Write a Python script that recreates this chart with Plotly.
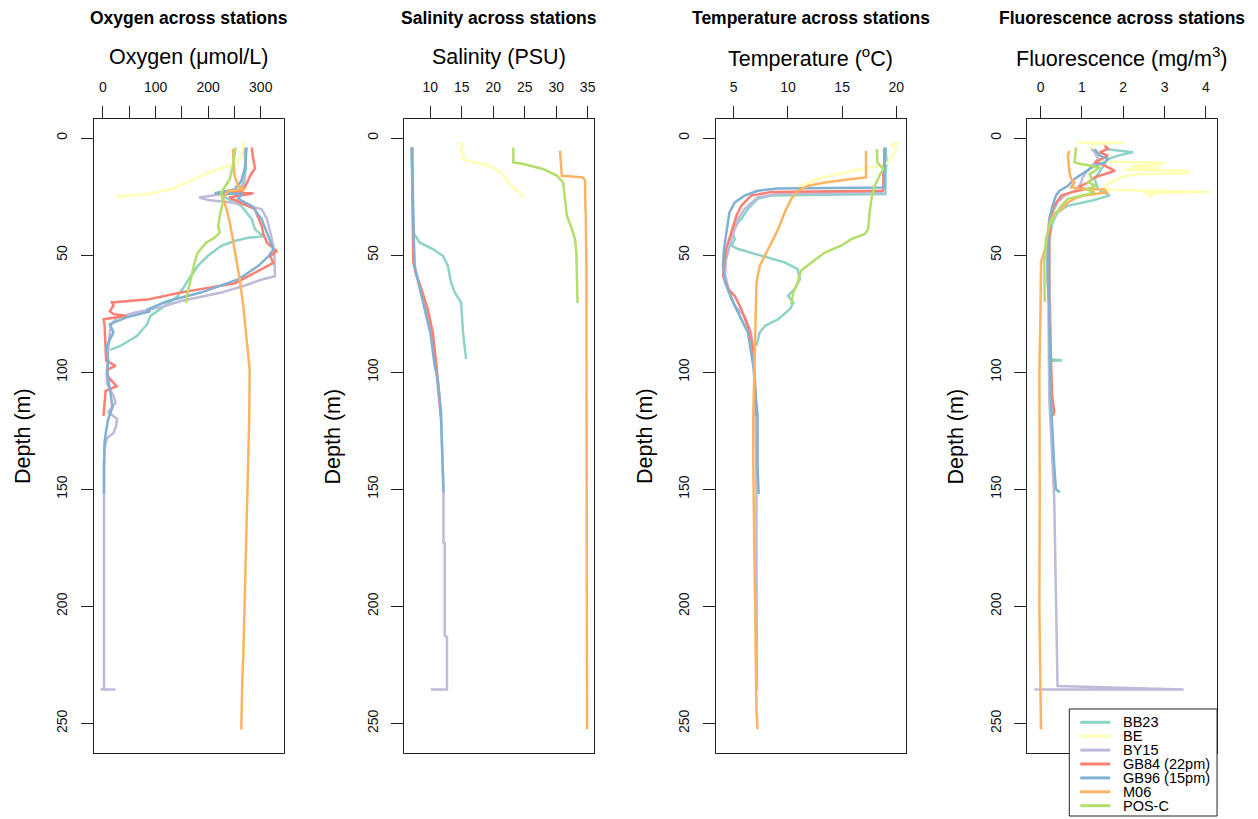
import plotly.graph_objects as go

W, H = 1258, 819

stations = ["BB23", "BE", "BY15", "GB84 (22pm)", "GB96 (15pm)", "M06", "POS-C"]
colors = ["#8DD3C7", "#FFFFB3", "#BEBADA", "#FB8072", "#80B1D3", "#FDB462", "#B3DE69"]

# ---------------- Oxygen (umol/L) ----------------
oxy_d_BB23 = [4, 8, 12, 16, 20, 23, 24.5, 26, 29, 34.7, 39, 42, 42.6, 44, 46, 50.4, 54.7, 59, 63.3, 67.6, 71.9, 76, 79.5, 84.5, 88.8, 90.5]
oxy_BB23 = [268, 270, 272, 270, 268, 262, 225, 238, 263, 283, 289, 305, 276, 250, 225, 199, 180, 167, 154, 142, 116, 90, 84, 65, 33, 14]
oxy_d_BE = [1.9, 4, 7, 10.4, 11.9, 13.5, 15.4, 18.3, 21.9, 24, 25.1]
oxy_BE = [268, 266, 264, 257, 238, 215, 193, 167, 129, 84, 24]
oxy_d_BY15 = [4.7, 8, 12, 16, 20, 23, 25.4, 26.5, 28, 30.4, 34.7, 40, 46, 50, 56, 59, 60.4, 63, 66, 69.6, 71.9, 74.7, 77, 80, 85, 90, 95, 100, 105, 110, 113, 117, 120, 123, 126, 128, 132, 140, 160, 180, 200, 220, 235, 235.5, 235.5]
oxy_BY15 = [270, 272, 270, 268, 265, 255, 183, 200, 260, 302, 312, 318, 324, 326, 327, 327, 302, 270, 225, 148, 116, 58, 25, 15, 12, 10, 8, 7, 8, 20, 24, 10, 27, 25, 20, 8, 3, 2, 2, 2, 2, 2, 2, -4, 24]
oxy_d_GB84 = [4, 8, 13, 16, 20, 22.5, 23.6, 23.6, 25.4, 27.5, 30.4, 34, 37.6, 41, 44.7, 48.3, 50.5, 53.3, 56, 59, 62, 64, 66, 69, 70.2, 71.5, 74, 75.2, 75.9, 77.4, 80, 85, 90, 95, 97.3, 99, 102, 106, 108, 112, 116, 118.7]
oxy_GB84 = [283, 285, 289, 280, 272, 265, 216, 286, 240, 262, 289, 295, 302, 305, 312, 330, 318, 324, 302, 275, 251, 200, 148, 84, 17, 20, 13, 20, 45, 1, 3, 4, 5, 6, 24, 8, 10, 26, 5, 3, 2, 1]
oxy_d_GB96 = [4, 8, 13, 18.3, 22, 23.6, 23.8, 26, 29, 34.7, 41.9, 47.6, 50.4, 54.7, 60.4, 63, 66, 69.7, 73.3, 74, 76.6, 79.5, 83, 88.8, 95, 100, 105, 110, 115, 120, 125, 130, 140, 152]
oxy_GB96 = [273, 272, 270, 263, 250, 212, 265, 257, 283, 302, 315, 324, 315, 295, 257, 225, 186, 122, 84, 90, 45, 13, 20, 7, 10, 8, 12, 15, 18, 10, 6, 3, 2, 2]
oxy_d_M06 = [4.7, 10, 16, 20.4, 22, 22.6, 25.4, 30.4, 36, 43.3, 51.9, 60.4, 71.9, 85, 99.3, 120, 138.5, 160, 174, 190, 203, 220, 231, 252.6]
oxy_M06 = [247, 248, 250, 257, 270, 238, 228, 235, 241, 247, 254, 260, 267, 273, 279, 278, 276, 274, 273, 271, 269, 267, 265, 263]
oxy_d_POSC = [4, 8, 11.9, 17.6, 23.3, 27.6, 33.3, 37.6, 40.4, 42.6, 44.7, 49, 53.3, 60.4, 66, 70.5]
oxy_POSC = [252, 250, 247, 241, 225, 228, 222, 219, 222, 212, 196, 180, 174, 167, 161, 158]

# ---------------- Salinity (PSU) ----------------
sal_d_BB23 = [4, 20, 40.3, 44.6, 47.4, 50.3, 54.6, 61.7, 66, 70.2, 76, 83, 90, 94.4]
sal_BB23 = [7.1, 7.2, 7.3, 8.3, 10.4, 12.0, 12.8, 13.3, 13.9, 14.9, 15.0, 15.2, 15.5, 15.7]
sal_d_BE = [1.9, 3, 5, 7.5, 9, 10.4, 11.8, 14, 16, 18, 20.4, 23, 25.4]
sal_BE = [14.7, 15.3, 14.8, 15.4, 15.0, 17.3, 19.4, 20.8, 21.6, 22.2, 22.9, 24.0, 25.0]
sal_d_BY15 = [4, 20, 40, 54, 58, 62, 66, 70, 75, 80, 90, 100, 110, 120, 138.5, 151, 172.8, 173, 212.7, 213, 235.5, 235.5]
sal_BY15 = [7.2, 7.2, 7.3, 7.5, 7.8, 8.3, 8.7, 9.1, 9.6, 10.0, 10.6, 11.0, 11.4, 11.7, 11.96, 12.1, 12.1, 12.3, 12.3, 12.65, 12.65, 10.1]
sal_d_GB84 = [4, 26, 53, 58.8, 64.5, 73, 83, 97.3, 110, 118.7]
sal_GB84 = [7.1, 7.15, 7.3, 7.8, 8.6, 9.6, 10.4, 11.0, 11.4, 11.7]
sal_d_GB96 = [4, 40, 54.6, 64, 73, 83, 97.3, 103, 117, 138.5, 151.4]
sal_GB96 = [7.0, 7.3, 7.5, 8.3, 9.1, 10.0, 10.7, 11.2, 11.7, 11.96, 12.1]
sal_d_M06 = [5.4, 16.1, 16.8, 18.2, 26, 33.2, 54.6, 100, 110, 150, 200, 252.6]
sal_M06 = [30.6, 30.9, 34.3, 34.6, 34.6, 34.7, 34.8, 34.8, 34.9, 34.9, 34.9, 34.9]
sal_d_POSC = [4, 10.4, 11.1, 13.2, 16, 19, 26, 33.2, 38.9, 43.2, 48.9, 60, 70.5]
sal_POSC = [23.2, 23.2, 24.8, 27.9, 30.1, 31.1, 31.4, 31.7, 32.5, 33.0, 33.2, 33.3, 33.4]

# ---------------- Temperature (oC) ----------------
tmp_d_BB23 = [4.7, 10, 15, 20, 23.9, 24.5, 26, 30.3, 34.6, 36, 40.3, 43.2, 46, 47.4, 50.3, 53.1, 56, 60.3, 64.5, 67.4, 70.2, 73, 77.4, 80.2, 83, 88.7]
tmp_BB23 = [19.0, 19.1, 19.0, 19.0, 19.0, 8.5, 7.2, 6.3, 5.7, 5.4, 4.9, 5.1, 4.8, 5.4, 7.6, 9.7, 10.9, 11.1, 10.6, 10.0, 10.5, 10.2, 9.1, 7.9, 7.4, 7.1]
tmp_d_BE = [1.9, 3, 4.5, 7.5, 10.4, 11.8, 14, 17.5, 20.4, 22]
tmp_BE = [20.2, 19.6, 20.0, 19.7, 19.2, 18.6, 15.9, 12.8, 11.1, 10.9]
tmp_d_BY15 = [4.7, 12, 20, 23.2, 23.8, 25.4, 30.3, 34.6, 43, 51.7, 58, 64, 68, 71.7, 76, 83, 93, 100, 120, 150, 180, 210, 235.5]
tmp_BY15 = [18.9, 18.9, 18.8, 18.8, 9.0, 7.2, 6.0, 5.4, 4.8, 4.3, 4.2, 4.5, 4.8, 5.1, 6.0, 6.6, 6.8, 6.9, 7.0, 7.1, 7.1, 7.15, 7.15]
tmp_d_GB84 = [4, 10, 16, 21.8, 22.5, 23.0, 24.6, 28.9, 33.2, 40.3, 47.4, 54.6, 58.8, 64.5, 67.4, 73, 83, 90.2, 97.3, 110, 118.7]
tmp_GB84 = [18.9, 18.9, 18.8, 18.8, 18.7, 8.5, 6.6, 5.7, 5.25, 4.8, 4.3, 4.1, 4.0, 4.5, 5.1, 5.7, 6.5, 6.8, 6.9, 7.0, 7.1]
tmp_d_GB96 = [4, 10, 16, 21.1, 21.6, 22.5, 24.6, 27.5, 31.8, 40.3, 47.4, 54.6, 61.7, 68.8, 75.9, 83, 97.3, 110, 118.7, 130, 140, 152]
tmp_GB96 = [19.0, 18.9, 18.9, 18.9, 9.0, 7.2, 6.0, 5.1, 4.6, 4.3, 4.1, 4.0, 4.2, 4.8, 5.55, 6.3, 6.8, 7.0, 7.2, 7.2, 7.2, 7.3]
tmp_d_M06 = [5.4, 10, 16.8, 17.5, 19, 20.4, 22.5, 26, 31.8, 38.9, 47.4, 54.6, 61.7, 76, 100, 118.7, 138, 175, 215, 245, 252.6]
tmp_M06 = [17.2, 17.2, 17.2, 15.85, 13.4, 11.9, 10.9, 10.3, 9.7, 9.1, 8.2, 7.4, 7.1, 7.0, 6.9, 6.8, 6.8, 6.9, 7.0, 7.1, 7.2]
tmp_d_POSC = [4.7, 10.4, 13.2, 14.7, 20.4, 26, 33.2, 38.9, 41, 43.2, 46, 48.9, 53.1, 56.7, 61.7, 66, 71]
tmp_POSC = [18.2, 18.25, 18.8, 18.6, 18.0, 17.7, 17.5, 17.4, 17.1, 15.85, 14.9, 13.4, 12.2, 11.2, 10.9, 10.5, 10.3]

# ---------------- Fluorescence (mg/m3) ----------------
flu_d_BB23 = [4.7, 5.4, 6.1, 7.3, 9, 13.2, 17.5, 21.8, 24.6, 26.8, 28.9, 31.8, 36, 43.2, 60.3, 71.7, 80, 90, 94.5, 94.9, 95.3]
flu_BB23 = [1.55, 1.84, 2.24, 1.92, 1.63, 1.47, 1.31, 1.39, 1.67, 1.23, 0.66, 0.41, 0.29, 0.21, 0.21, 0.23, 0.24, 0.25, 0.25, 0.52, 0.25]
flu_d_BE = [1.9, 2.0, 2.5, 4, 6, 8, 10, 10.4, 11, 12, 13, 13.5, 14, 15, 15.5, 16.5, 18, 20, 22, 23, 23.5, 24, 25]
flu_BE = [0.9, 2.0, 1.3, 1.2, 1.3, 1.4, 1.5, 2.9, 3.0, 2.2, 2.9, 2.0, 3.5, 3.6, 2.3, 2.0, 1.8, 1.6, 1.5, 4.1, 2.5, 2.8, 2.6]
flu_d_BY15 = [4.7, 6, 9, 14.7, 16.8, 19, 21.8, 24.6, 27.5, 31.8, 38, 53, 71.7, 90, 111.5, 154, 197, 234, 235.5, 235.5]
flu_BY15 = [1.23, 1.31, 1.39, 1.1, 1.02, 0.98, 0.9, 0.58, 0.41, 0.29, 0.21, 0.17, 0.19, 0.2, 0.21, 0.33, 0.37, 0.41, 3.46, -0.15]
flu_d_GB84 = [3.3, 4.5, 6.1, 7.5, 10.4, 11, 14, 15.4, 16.8, 19, 21, 21.8, 23.2, 24.6, 28.9, 33.2, 43, 71.7, 90, 110, 117, 118.7]
flu_GB84 = [1.55, 1.63, 1.43, 1.63, 1.31, 1.47, 1.8, 1.55, 1.31, 1.15, 0.9, 1.1, 0.74, 0.5, 0.33, 0.25, 0.21, 0.21, 0.24, 0.28, 0.33, 0.3]
flu_d_GB96 = [4.7, 7.5, 9, 10.4, 11.8, 14.7, 17.5, 20.4, 22.5, 24.6, 28.9, 34.6, 43.2, 60.3, 71.7, 90, 111.5, 140, 150, 151.3]
flu_GB96 = [1.31, 1.43, 1.63, 1.55, 1.31, 1.06, 0.82, 0.66, 0.46, 0.37, 0.29, 0.21, 0.17, 0.17, 0.21, 0.22, 0.25, 0.33, 0.37, 0.47]
flu_d_M06 = [5.4, 7.5, 14.7, 17.5, 19, 21, 21.8, 22, 23.2, 24.6, 26, 27.5, 30.3, 31.8, 34.6, 40.3, 46, 53.1, 71.7, 100, 150, 200, 252.6]
flu_M06 = [0.7, 0.66, 0.7, 0.74, 0.82, 0.74, 1.02, 1.55, 1.6, 1.02, 0.82, 0.66, 0.5, 0.37, 0.25, 0.17, 0.13, 0.01, 0.0, -0.03, -0.02, -0.03, 0.01]
flu_d_POSC = [4, 10.4, 11.1, 11.8, 12.5, 14, 15.4, 17.5, 19, 20.4, 21.8, 23.2, 24.6, 26, 28.9, 33.2, 37.5, 43.2, 53.1, 67.4, 70]
flu_POSC = [0.86, 0.82, 0.98, 1.23, 1.43, 1.31, 1.19, 1.23, 1.15, 1.35, 1.1, 1.31, 0.98, 0.66, 0.5, 0.33, 0.21, 0.13, 0.09, 0.09, 0.1]

# tick positions / labels
oxy_ticks = [0, 100, 200, 300]
oxy_minor_ticks = [50, 150, 250]
sal_ticks = [10, 15, 20, 25, 30, 35]
tmp_ticks = [5, 10, 15, 20]
flu_ticks = [0, 1, 2, 3, 4]
depth_ticks = [0, 50, 100, 150, 200, 250]

panel_titles = ["Oxygen across stations", "Salinity across stations",
                "Temperature across stations", "Fluorescence across stations"]
axis_titles = ["Oxygen (\u03bcmol/L)", "Salinity (PSU)",
               "Temperature (<sup>o</sup>C)", "Fluorescence (mg/m<sup>3</sup>)"]
depth_title = "Depth (m)"

panels = [
    ([oxy_d_BB23, oxy_d_BE, oxy_d_BY15, oxy_d_GB84, oxy_d_GB96, oxy_d_M06, oxy_d_POSC],
     [oxy_BB23, oxy_BE, oxy_BY15, oxy_GB84, oxy_GB96, oxy_M06, oxy_POSC],
     oxy_ticks, oxy_minor_ticks),
    ([sal_d_BB23, sal_d_BE, sal_d_BY15, sal_d_GB84, sal_d_GB96, sal_d_M06, sal_d_POSC],
     [sal_BB23, sal_BE, sal_BY15, sal_GB84, sal_GB96, sal_M06, sal_POSC],
     sal_ticks, None),
    ([tmp_d_BB23, tmp_d_BE, tmp_d_BY15, tmp_d_GB84, tmp_d_GB96, tmp_d_M06, tmp_d_POSC],
     [tmp_BB23, tmp_BE, tmp_BY15, tmp_GB84, tmp_GB96, tmp_M06, tmp_POSC],
     tmp_ticks, None),
    ([flu_d_BB23, flu_d_BE, flu_d_BY15, flu_d_GB84, flu_d_GB96, flu_d_M06, flu_d_POSC],
     [flu_BB23, flu_BE, flu_BY15, flu_GB84, flu_GB96, flu_M06, flu_POSC],
     flu_ticks, None),
]


def r_range(arrays):
    lo = min(min(a) for a in arrays)
    hi = max(max(a) for a in arrays)
    pad = 0.04 * (hi - lo)
    return [lo - pad, hi + pad]


all_depths = [d for p in panels for d in p[0]]
depth_range = r_range(all_depths)

FONT = "Liberation Sans, Arial, sans-serif"
box_left = [94, 405, 717, 1029]
box_w = 190
box_top, box_bot = 119, 753

fig = go.Figure()
annotations = []
shapes = []

for i, (depths, vals, tv, minor_tv) in enumerate(panels):
    ax = "" if i == 0 else str(i + 1)
    for s in range(len(stations)):
        fig.add_trace(go.Scatter(
            x=vals[s], y=depths[s], mode="lines",
            line=dict(color=colors[s], width=2.5),
            name=stations[s], showlegend=False,
            xaxis="x" + ax, yaxis="y" + ax,
        ))
    x0 = box_left[i] / W
    x1 = (box_left[i] + box_w) / W
    common = dict(showline=True, mirror=True, linecolor="#222", linewidth=1,
                  ticks="outside", ticklen=12, tickwidth=1, tickcolor="#222",
                  showgrid=False, zeroline=False,
                  tickfont=dict(family=FONT, size=14, color="#111"))
    xa = dict(domain=[x0, x1], range=r_range(vals), side="top",
              anchor="y" + ax, tickmode="array", tickvals=tv,
              ticktext=[str(t) for t in tv], ticklabelstandoff=8, **common)
    if minor_tv:
        xa["minor"] = dict(tickmode="array", tickvals=minor_tv, ticks="outside",
                           ticklen=12, tickwidth=1, tickcolor="#222", showgrid=False)
    fig.update_layout(**{
        "xaxis" + ax: xa,
        "yaxis" + ax: dict(domain=[1 - box_bot / H, 1 - box_top / H],
                           range=[depth_range[1], depth_range[0]],
                           anchor="x" + ax, tickmode="array", tickvals=depth_ticks,
                           ticktext=[str(t) for t in depth_ticks],
                           tickangle=-90, ticklabelstandoff=8, **common),
    })
    cx = (box_left[i] + box_w / 2) / W
    annotations.append(dict(text="<b>" + panel_titles[i] + "</b>", x=cx, y=1 - 18 / H,
                            xref="paper", yref="paper", xanchor="center", yanchor="middle",
                            showarrow=False, font=dict(family=FONT, size=17.5, color="#000")))
    annotations.append(dict(text=axis_titles[i], x=cx, y=1 - 57 / H,
                            xref="paper", yref="paper", xanchor="center", yanchor="middle",
                            showarrow=False, font=dict(family=FONT, size=21.5, color="#000")))
    annotations.append(dict(text=depth_title, x=(box_left[i] - 71) / W,
                            y=1 - (box_top + box_bot) / 2 / H, textangle=-90,
                            xref="paper", yref="paper", xanchor="center", yanchor="middle",
                            showarrow=False, font=dict(family=FONT, size=21.5, color="#000")))

# legend box (drawn manually to match the compact R legend)
lg_x0, lg_x1, lg_y0, lg_y1 = 1071, 1219, 709, 816
shapes.append(dict(type="rect", xref="paper", yref="paper",
                   x0=lg_x0 / W, x1=lg_x1 / W, y0=1 - lg_y1 / H, y1=1 - lg_y0 / H,
                   fillcolor="white", line=dict(color="#222", width=1), layer="above"))
for s, name in enumerate(stations):
    yy = 1 - (722.3 + 13.9 * s) / H
    shapes.append(dict(type="line", xref="paper", yref="paper",
                       x0=1082 / W, x1=1112 / W, y0=yy, y1=yy,
                       line=dict(color=colors[s], width=3), layer="above"))
    annotations.append(dict(text=name, x=1123 / W, y=yy, xref="paper", yref="paper",
                            xanchor="left", yanchor="middle", showarrow=False,
                            font=dict(family=FONT, size=14.5, color="#000")))

fig.update_layout(width=W, height=H, margin=dict(l=0, r=0, t=0, b=0),
                  paper_bgcolor="white", plot_bgcolor="white",
                  showlegend=False, annotations=annotations, shapes=shapes,
                  font=dict(family=FONT), hovermode=False)

fig.write_html("out.html", config={"displayModeBar": False},
               post_script="document.body.style.margin='0';"
                           "document.documentElement.style.overflow='hidden';")
